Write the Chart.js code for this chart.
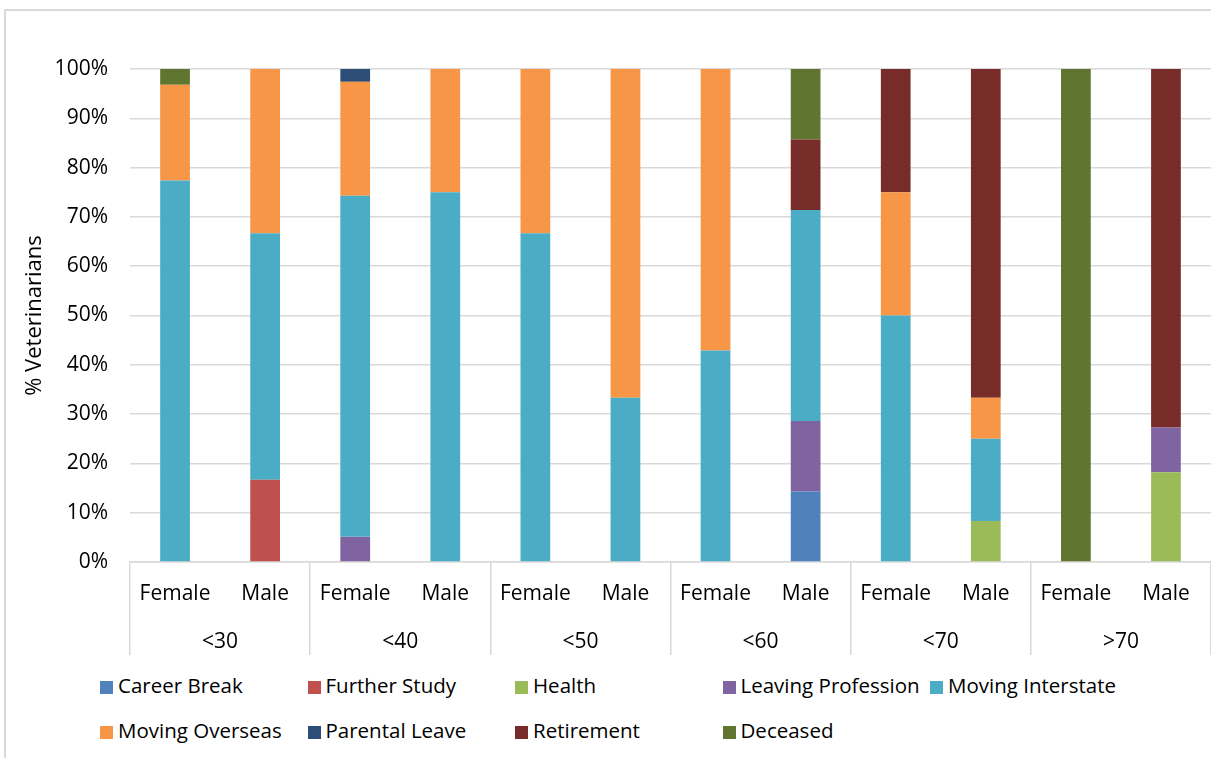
<!DOCTYPE html>
<html>
<head>
<meta charset="utf-8">
<script src="https://cdn.jsdelivr.net/npm/chart.js@4"></script>
<style>
  body { margin: 0; background: #fff; font-family: "Open Sans", sans-serif; }
  #wrap { position: relative; width: 1211px; height: 758px; overflow: hidden; background: #fff; }
  #frame { position: absolute; left: 4px; top: 9px; width: 1300px; height: 900px;
           border-left: 2px solid #d9d9d9; border-top: 2px solid #d9d9d9; }
  #chart { position: absolute; left: 0; top: 0; }
  #legend { position: absolute; left: 100px; top: 663px;
            display: grid; grid-template-columns: repeat(5, 207.5px); }
  .item { height: 45px; line-height: 45px; font-size: 20.5px; color: #000; white-space: nowrap; }
  .box { display: inline-block; width: 13px; height: 13px; margin-right: 5px; vertical-align: -1px; }
</style>
</head>
<body>
<div id="wrap">
  <div id="frame"></div>
  <canvas id="chart" width="1211" height="660"></canvas>
  <div id="legend"></div>
</div>
<script>
// categories: sex within age group
const sexes = ["Female", "Male", "Female", "Male", "Female", "Male",
               "Female", "Male", "Female", "Male", "Female", "Male"];
const ageGroups = ["<30", "<40", "<50", "<60", "<70", ">70"];

// % of veterinarians per reason (each bar sums to 100)
const careerBreak      = [0, 0, 0, 0, 0, 0, 0, 14.3, 0, 0, 0, 0];
const furtherStudy     = [0, 16.7, 0, 0, 0, 0, 0, 0, 0, 0, 0, 0];
const health           = [0, 0, 0, 0, 0, 0, 0, 0, 0, 8.3, 0, 18.2];
const leavingProf      = [0, 0, 5.1, 0, 0, 0, 0, 14.3, 0, 0, 0, 9.1];
const movingInterstate = [77.4, 50, 69.2, 75, 66.7, 33.3, 42.9, 42.8, 50, 16.7, 0, 0];
const movingOverseas   = [19.4, 33.3, 23.1, 25, 33.3, 66.7, 57.1, 0, 25, 8.3, 0, 0];
const parentalLeave    = [0, 0, 2.6, 0, 0, 0, 0, 0, 0, 0, 0, 0];
const retirement       = [0, 0, 0, 0, 0, 0, 0, 14.3, 25, 66.7, 0, 72.7];
const deceased         = [3.2, 0, 0, 0, 0, 0, 0, 14.3, 0, 0, 100, 0];

const yTicks = [0, 10, 20, 30, 40, 50, 60, 70, 80, 90, 100];

const series = [
  ["Career Break", careerBreak, "#4F81BD"],
  ["Further Study", furtherStudy, "#C0504D"],
  ["Health", health, "#9BBB59"],
  ["Leaving Profession", leavingProf, "#8064A2"],
  ["Moving Interstate", movingInterstate, "#4BACC6"],
  ["Moving Overseas", movingOverseas, "#F79646"],
  ["Parental Leave", parentalLeave, "#2C4D75"],
  ["Retirement", retirement, "#772C2A"],
  ["Deceased", deceased, "#5F7530"],
];

const gridGrey = "#d9d9d9";
const font = "'Open Sans', sans-serif";

const chart = new Chart(document.getElementById("chart"), {
  type: "bar",
  data: {
    labels: sexes,
    datasets: series.map(([label, data, color]) => ({
      label: label,
      data: data,
      backgroundColor: color,
      borderWidth: 0,
      categoryPercentage: 1,
      barPercentage: 0.33,
    })),
  },
  options: {
    responsive: false,
    animation: false,
    layout: { padding: { top: 69, left: 0, right: 0, bottom: 5 } },
    plugins: { legend: { display: false }, tooltip: { enabled: false } },
    scales: {
      x: {
        stacked: true,
        offset: true,
        grid: {
          offset: true,
          drawOnChartArea: false,
          tickLength: 60,
          // only the boundaries between age groups
          color: (c) => (c.type !== "tick" || c.index % 2 === 0) ? gridGrey : "rgba(0,0,0,0)",
          lineWidth: 1.5,
        },
        border: { display: true, color: gridGrey, width: 1.5 },
        ticks: { color: "#000", font: { family: font, size: 21 }, padding: -41, maxRotation: 0, autoSkip: false },
        afterFit: (s) => { s.height = 60; },
      },
      x2: {
        type: "category",
        labels: ageGroups,
        position: "bottom",
        weight: 1,
        offset: true,
        grid: { offset: true, drawOnChartArea: false, tickLength: 33, color: gridGrey, lineWidth: 1.5 },
        border: { display: false },
        ticks: { color: "#000", font: { family: font, size: 21 }, padding: -26, maxRotation: 0 },
        afterFit: (s) => { s.height = 33; },
      },
      y: {
        stacked: true,
        min: 0,
        max: 100,
        afterBuildTicks: (s) => { s.ticks = yTicks.map((v) => ({ value: v })); },
        grid: { color: gridGrey, lineWidth: 1.5, drawTicks: false },
        border: { display: false },
        ticks: { color: "#000", font: { family: font, size: 21 }, padding: 22, callback: (v) => v + "%" },
        title: { display: true, text: "% Veterinarians", color: "#000",
                 font: { family: font, size: 22 }, padding: { top: 22, bottom: 0 } },
        afterFit: (s) => { s.width = 130; },
      },
    },
  },
});

// legend laid out in columns like the original
const legend = document.getElementById("legend");
chart.data.datasets.forEach((ds) => {
  const item = document.createElement("div");
  item.className = "item";
  const box = document.createElement("span");
  box.className = "box";
  box.style.background = ds.backgroundColor;
  item.appendChild(box);
  item.appendChild(document.createTextNode(ds.label));
  legend.appendChild(item);
});
</script>
</body>
</html>
